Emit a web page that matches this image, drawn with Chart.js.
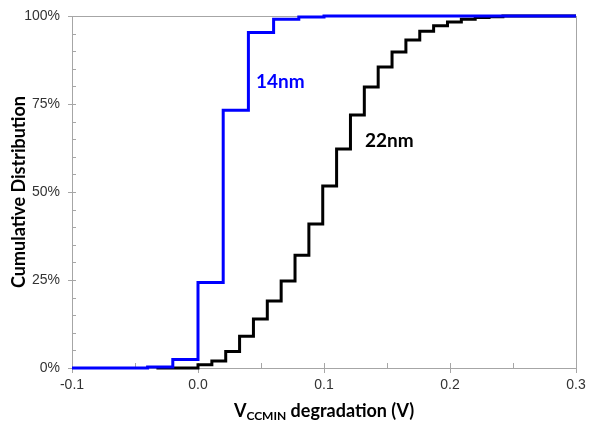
<!DOCTYPE html>
<html>
<head>
<meta charset="utf-8">
<script src="https://cdn.jsdelivr.net/npm/chart.js@4"></script>
<style>
    html, body { margin: 0; padding: 0; background: #fff; }
    #wrap { width: 589px; height: 431px; }
</style>
</head>
<body>
<div id="wrap"><canvas id="cdfChart" width="589" height="431"></canvas></div>
<script>
// 14nm cumulative distribution (step points)
let x14 = [-0.1, -0.04, -0.02, 0.0, 0.02, 0.04, 0.06, 0.08, 0.10, 0.3];
let y14 = [0, 0.3, 2.4, 24.3, 73.2, 95.3, 99.1, 99.7, 100, 100];

// 22nm cumulative distribution (step points)
let x22 = [-0.033, 0.0, 0.011, 0.022, 0.033, 0.044, 0.055, 0.066, 0.077, 0.088, 0.099, 0.110,
    0.121, 0.132, 0.143, 0.154, 0.165, 0.176, 0.187, 0.198, 0.209, 0.220, 0.231, 0.242, 0.3];
let y22 = [0, 0.9, 2.0, 4.7, 9.0, 13.9, 19.0, 24.7, 32.0, 40.9, 51.7, 62.2,
    71.9, 79.8, 85.5, 89.8, 93.2, 95.7, 97.2, 98.3, 99.1, 99.6, 99.8, 100, 100];

let xTicks = [-0.1, 0.0, 0.1, 0.2, 0.3];
let yTicks = [0, 25, 50, 75, 100];

function toPoints(xs, ys) {
    let pts = [];
    for (let i = 0; i < xs.length; i++) {
        pts.push({ x: xs[i], y: ys[i] });
    }
    return pts;
}

const titleFont = 'bold 18px Lato, "Open Sans", sans-serif';
const labelFont = 'bold 19px Lato, "Open Sans", sans-serif';
const axisGray = '#a6a6a6';

// frame, tick marks and the text that Chart.js can't do (subscript, in-plot labels)
const decorPlugin = {
    id: 'decor',
    beforeDatasetsDraw(chart) {
        let ctx = chart.ctx;
        let a = chart.chartArea;
        let xs = chart.scales.x;
        let ys = chart.scales.y;
        ctx.save();
        ctx.strokeStyle = axisGray;
        ctx.lineWidth = 1;
        ctx.strokeRect(Math.round(a.left) + 0.5, Math.round(a.top) + 0.5,
            Math.round(a.right - a.left), Math.round(a.bottom - a.top));

        ctx.beginPath();
        for (let v = -0.1; v <= 0.3001; v += 0.05) {
            let px = Math.round(xs.getPixelForValue(v)) + 0.5;
            let major = Math.abs(Math.round(v * 10) - v * 10) < 1e-6;
            ctx.moveTo(px, a.bottom - 5);
            ctx.lineTo(px, a.bottom + (major ? 5 : 0));
        }
        for (let v = 0; v <= 100; v += 5) {
            let py = Math.round(ys.getPixelForValue(v)) + 0.5;
            let major = v % 25 === 0;
            ctx.moveTo(a.left - (major ? 4 : 0), py);
            ctx.lineTo(a.left + 4, py);
        }
        ctx.stroke();
        ctx.restore();
    },
    afterDraw(chart) {
        let ctx = chart.ctx;
        let a = chart.chartArea;
        ctx.save();
        ctx.textBaseline = 'middle';

        // y axis title
        ctx.save();
        ctx.translate(19, (a.top + a.bottom) / 2);
        ctx.rotate(-Math.PI / 2);
        ctx.textAlign = 'center';
        ctx.font = titleFont;
        ctx.fillStyle = '#000';
        ctx.fillText('Cumulative Distribution', 0, 0);
        ctx.restore();

        // x axis title with subscript
        let main1 = 'V';
        let sub = 'CCMIN';
        let main2 = ' degradation (V)';
        let subFont = 'bold 12px Lato, "Open Sans", sans-serif';
        ctx.font = titleFont;
        let w1 = ctx.measureText(main1).width;
        let w3 = ctx.measureText(main2).width;
        ctx.font = subFont;
        let w2 = ctx.measureText(sub).width;
        let total = w1 + w2 + w3;
        let cx = (a.left + a.right) / 2;
        let ty = 411;
        let sx = cx - total / 2;
        ctx.textAlign = 'left';
        ctx.fillStyle = '#000';
        ctx.font = titleFont;
        ctx.fillText(main1, sx, ty);
        ctx.font = subFont;
        ctx.fillText(sub, sx + w1, ty + 5);
        ctx.font = titleFont;
        ctx.fillText(main2, sx + w1 + w2, ty);

        // series labels
        ctx.font = labelFont;
        ctx.fillStyle = '#0000ff';
        ctx.fillText('14nm', 256, 82);
        ctx.fillStyle = '#000';
        ctx.fillText('22nm', 365, 141);
        ctx.restore();
    }
};

let ctx = document.getElementById('cdfChart').getContext('2d');
let chart = new Chart(ctx, {
    type: 'line',
    data: {
        datasets: [{
            label: '14nm',
            data: toPoints(x14, y14),
            borderColor: '#0000ff',
            borderWidth: 3,
            stepped: 'before',
            pointRadius: 0,
            fill: false,
            clip: 4
        }, {
            label: '22nm',
            data: toPoints(x22, y22),
            borderColor: '#000000',
            borderWidth: 3,
            stepped: 'before',
            pointRadius: 0,
            fill: false,
            clip: 4
        }]
    },
    options: {
        responsive: false,
        animation: false,
        layout: { padding: { top: 16, right: 13, left: 0, bottom: 0 } },
        plugins: {
            legend: { display: false },
            tooltip: { enabled: false }
        },
        scales: {
            x: {
                type: 'linear',
                min: -0.1,
                max: 0.3,
                afterBuildTicks: function (scale) {
                    scale.ticks = xTicks.map(v => ({ value: v }));
                },
                afterFit: function (scale) {
                    scale.height = 63;
                    scale.paddingLeft = 0;
                    scale.paddingRight = 0;
                },
                grid: { display: false, drawTicks: false },
                border: { display: false },
                ticks: {
                    padding: 9,
                    color: '#333',
                    font: { family: 'Arial, "Liberation Sans"', size: 14 },
                    maxRotation: 0,
                    callback: v => v.toFixed(1)
                }
            },
            y: {
                min: 0,
                max: 100,
                afterBuildTicks: function (scale) {
                    scale.ticks = yTicks.map(v => ({ value: v }));
                },
                afterFit: function (scale) {
                    scale.width = 72;
                    scale.paddingTop = 0;
                    scale.paddingBottom = 0;
                },
                grid: { display: false, drawTicks: false },
                border: { display: false },
                ticks: {
                    padding: 12,
                    color: '#333',
                    font: { family: 'Arial, "Liberation Sans"', size: 14 },
                    callback: v => v + '%'
                }
            }
        }
    },
    plugins: [decorPlugin]
});
</script>
</body>
</html>
